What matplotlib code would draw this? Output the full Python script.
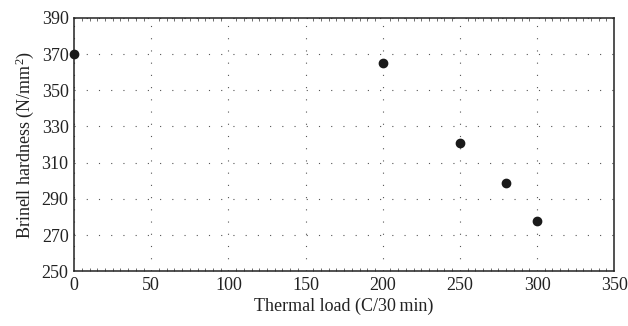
import matplotlib
matplotlib.use('Agg')
import matplotlib.pyplot as plt
from matplotlib.ticker import MultipleLocator

# Brinell hardness vs thermal load
thermal_load = [0, 200, 250, 280, 300]
hardness = [370, 365, 321, 299, 278]
x_ticks = [0, 50, 100, 150, 200, 250, 300, 350]
y_ticks = [250, 270, 290, 310, 330, 350, 370, 390]

plt.rcParams['font.family'] = ['Liberation Serif', 'DejaVu Serif']
plt.rcParams['font.size'] = 13
plt.rcParams['mathtext.fontset'] = 'custom'
plt.rcParams['mathtext.rm'] = 'Liberation Serif'
plt.rcParams['mathtext.it'] = 'Liberation Serif:italic'

fig, ax = plt.subplots(figsize=(6.28, 3.26), dpi=100)
fig.subplots_adjust(left=0.118, right=0.978, top=0.945, bottom=0.168)

ax.plot(thermal_load, hardness, 'o', color='#1a1a1a', markersize=6, clip_on=False, zorder=3)

ax.set_xlim(0, 350)
ax.set_ylim(250, 390)
ax.set_xticks(x_ticks)
ax.set_yticks(y_ticks)
ax.xaxis.set_minor_locator(MultipleLocator(5))

ax.grid(True, which='major', color='#555555', linestyle=(0, (1, 10)), linewidth=0.8)
ax.tick_params(axis='both', which='major', length=0, pad=4, colors='#222222')
ax.tick_params(axis='x', which='minor', direction='in', length=2, width=0.6,
               top=True, bottom=True, color='#555555')

for s in ax.spines.values():
    s.set_linewidth(1.1)
    s.set_color('#222222')

ax.set_xlabel('Thermal load (C/30\u2009min)', labelpad=3, color='#222222')
ax.set_ylabel('Brinell hardness (N/mm$\\mathrm{^2}$)', labelpad=4, color='#222222')

fig.savefig('out.png', dpi=100)
